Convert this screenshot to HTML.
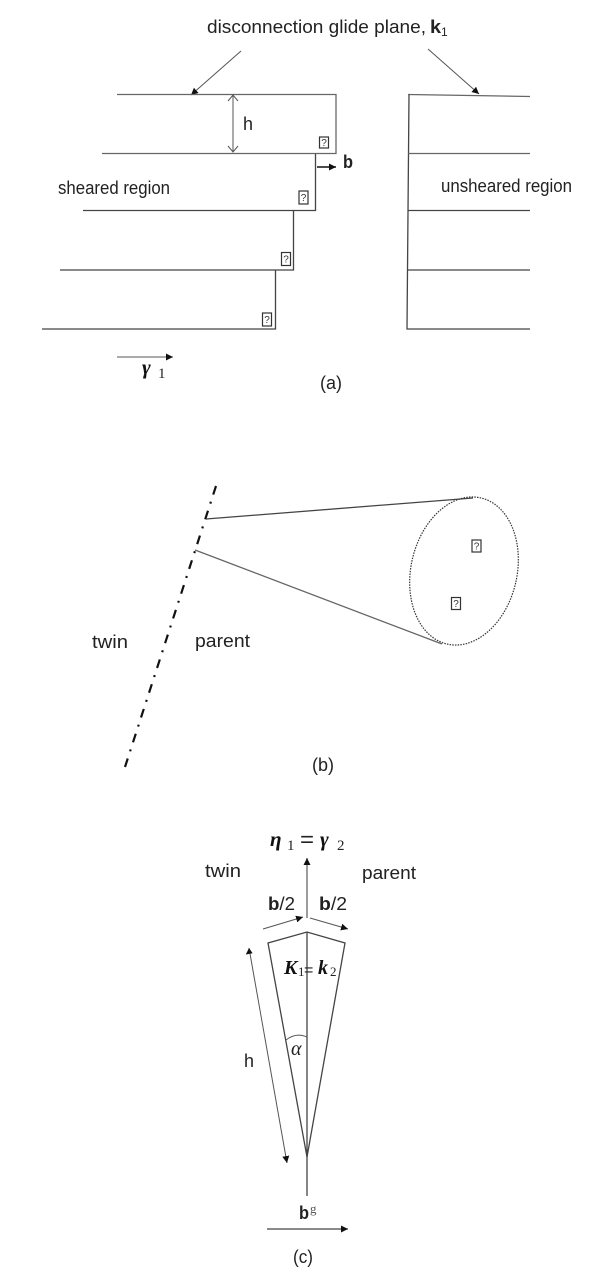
<!DOCTYPE html>
<html>
<head>
<meta charset="utf-8">
<style>
html,body{margin:0;padding:0;background:#fff;}
svg{display:block;}
text{font-family:"Liberation Sans",sans-serif;font-size:18px;fill:#222;}
.q{font-size:10px;fill:#333;text-anchor:middle;}
.m{font-family:"Liberation Serif",serif;font-style:italic;font-weight:bold;font-size:21px;fill:#111;}
.s{font-family:"Liberation Serif",serif;font-size:15px;fill:#222;}
.l{stroke:#444;stroke-width:1.3;fill:none;}
.g{stroke:#666;stroke-width:1.3;fill:none;}
.t{stroke:#555;stroke-width:1;fill:none;}
.b{fill:#fff;stroke:#333;stroke-width:1.2;}
</style>
</head>
<body>
<svg width="600" height="1280" viewBox="0 0 600 1280" xmlns="http://www.w3.org/2000/svg">
<defs>
<marker id="a" markerWidth="8" markerHeight="8" refX="7" refY="3.5" orient="auto" markerUnits="userSpaceOnUse"><path d="M0 0L7 3.5L0 7Z" fill="#111"/></marker>
</defs>

<!-- (a) -->
<text x="207" y="33" textLength="219" lengthAdjust="spacingAndGlyphs">disconnection glide plane,</text>
<text x="430" y="33" font-weight="bold" textLength="11" lengthAdjust="spacingAndGlyphs">k</text>
<text x="441" y="36" style="font-size:12px">1</text>
<line class="t" x1="241" y1="51" x2="191" y2="95" marker-end="url(#a)"/>
<line class="t" x1="428" y1="49" x2="479" y2="94" marker-end="url(#a)"/>

<path class="g" d="M117 94.5H336V153.5H102"/>
<path class="l" d="M315.5 154V210.5H83"/>
<path class="l" d="M293.5 211V270H60"/>
<path class="l" d="M275.5 270V329H42"/>

<path class="g" d="M408 94.5L530 96.5"/>
<path class="l" d="M409 95L407 329H530"/>
<path class="g" d="M408 153.5H530"/>
<path class="l" d="M408 210.5H530M408 270H530"/>

<g class="t">
<line x1="233" y1="96" x2="233" y2="152"/>
<path d="M228 101L233 95L238 101M228 146L233 152L238 146"/>
</g>
<text x="243" y="130" textLength="10" lengthAdjust="spacingAndGlyphs">h</text>

<rect class="b" x="319.5" y="137" width="9" height="11"/><text class="q" x="324" y="146">?</text>
<rect class="b" x="299" y="191" width="9" height="13"/><text class="q" x="303.5" y="201">?</text>
<rect class="b" x="281.5" y="252.5" width="9" height="13"/><text class="q" x="286" y="262.500">?</text>
<rect class="b" x="262.5" y="313" width="9" height="13"/><text class="q" x="267" y="323">?</text>

<line x1="317" y1="167" x2="336" y2="167" stroke="#111" stroke-width="1.4" marker-end="url(#a)"/>
<text x="343" y="168" font-weight="bold" textLength="10" lengthAdjust="spacingAndGlyphs">b</text>
<text x="58" y="194" textLength="112" lengthAdjust="spacingAndGlyphs">sheared region</text>
<text x="441" y="192" textLength="131" lengthAdjust="spacingAndGlyphs">unsheared region</text>

<line class="t" x1="117" y1="357" x2="173" y2="357" marker-end="url(#a)"/>
<text class="m" x="142" y="374">γ</text>
<text class="s" x="158" y="378">1</text>
<text x="320" y="389" textLength="22" lengthAdjust="spacingAndGlyphs">(a)</text>

<!-- (b) -->
<line x1="216" y1="486" x2="125" y2="767" stroke="#111" stroke-width="2.2" stroke-dasharray="9 7.5 2 7.54"/>
<line class="l" x1="206" y1="519" x2="473" y2="498"/>
<line class="g" x1="195" y1="550" x2="442" y2="644"/>
<ellipse cx="464" cy="571" rx="53" ry="75" transform="rotate(13 464 571)" fill="none" stroke="#333" stroke-width="1.2" stroke-dasharray="1.5 1.2"/>
<rect class="b" x="472" y="540" width="9" height="12"/><text class="q" x="476.500" y="549.500">?</text>
<rect class="b" x="451.5" y="597.5" width="9" height="12"/><text class="q" x="456" y="607">?</text>
<text x="92" y="648" textLength="36" lengthAdjust="spacingAndGlyphs">twin</text>
<text x="195" y="647" textLength="55" lengthAdjust="spacingAndGlyphs">parent</text>
<text x="312" y="771" textLength="22" lengthAdjust="spacingAndGlyphs">(b)</text>

<!-- (c) -->
<text class="m" x="270" y="846">η</text>
<text class="s" x="287" y="850">1</text>
<text x="300" y="847" style="font-size:22px" textLength="14" lengthAdjust="spacingAndGlyphs">=</text>
<text class="m" x="320" y="846">γ</text>
<text class="s" x="337" y="850">2</text>
<line class="g" x1="307" y1="918" x2="307" y2="858" marker-end="url(#a)"/>
<text x="205" y="877" textLength="36" lengthAdjust="spacingAndGlyphs">twin</text>
<text x="362" y="879" textLength="54" lengthAdjust="spacingAndGlyphs">parent</text>
<text x="268" y="910" textLength="27" lengthAdjust="spacingAndGlyphs"><tspan font-weight="bold">b</tspan>/2</text>
<text x="319" y="910" textLength="28" lengthAdjust="spacingAndGlyphs"><tspan font-weight="bold">b</tspan>/2</text>
<line class="t" x1="263" y1="929" x2="303" y2="917" marker-end="url(#a)"/>
<line class="t" x1="310" y1="918" x2="348" y2="929" marker-end="url(#a)"/>
<path class="l" d="M307 1157L268 943L307 932L345 943L307 1157"/>
<line class="l" x1="307" y1="932" x2="307" y2="1196"/>
<text class="m" x="284" y="974" style="font-size:20px">K</text>
<text class="s" x="298" y="976" style="font-size:13px">1</text>
<text x="304" y="975" style="font-size:16px">=</text>
<text class="m" x="318" y="974" style="font-size:20px">k</text>
<text class="s" x="330" y="976" style="font-size:13px">2</text>
<line class="t" x1="249" y1="948" x2="287" y2="1163" marker-end="url(#a)"/>
<path d="M249 948l-3.2 6.500 6.800-1.200z" fill="#111"/>
<path class="t" d="M286 1040Q296 1032 307 1037"/>
<text x="291" y="1055" style="font-family:'Liberation Serif',serif;font-style:italic;font-size:20px">α</text>
<text x="244" y="1067" textLength="10" lengthAdjust="spacingAndGlyphs">h</text>
<text x="299" y="1219" font-weight="bold" textLength="10" lengthAdjust="spacingAndGlyphs">b</text>
<text class="s" x="310" y="1213" style="font-size:13px;fill:#555">g</text>
<line class="l" x1="267" y1="1229" x2="348" y2="1229" marker-end="url(#a)"/>
<text x="293" y="1263" textLength="20" lengthAdjust="spacingAndGlyphs">(c)</text>
</svg>
</body>
</html>
